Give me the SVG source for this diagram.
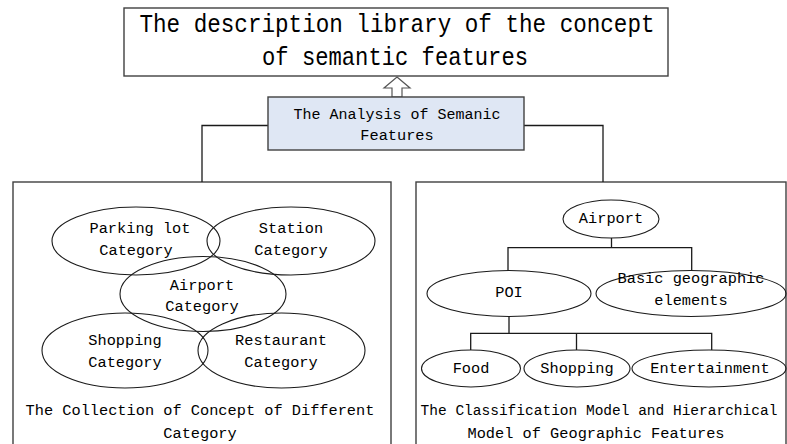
<svg xmlns="http://www.w3.org/2000/svg" width="787" height="444" viewBox="0 0 787 444">
<style>
.box{fill:#fff;stroke:#404040;stroke-width:1.4}
.abox{fill:#dfe7f4;stroke:#404040;stroke-width:1.4}
.el{fill:none;stroke:#1a1a1a;stroke-width:1.1}
.ln{fill:none;stroke:#1a1a1a;stroke-width:1.3}
.t{font-family:"Liberation Mono","DejaVu Sans Mono",monospace;font-size:15.3px;fill:#000;text-anchor:middle}
.big{font-family:"Liberation Mono","DejaVu Sans Mono",monospace;font-size:25px;fill:#000;text-anchor:middle}
</style>
<rect width="787" height="444" fill="#fff"/>
<g id="library">
<rect class="box" x="124" y="8" width="544" height="68"/>
<text class="big" x="397" y="32" textLength="515" lengthAdjust="spacingAndGlyphs">The description library of the concept</text>
<text class="big" x="395" y="65" textLength="266" lengthAdjust="spacingAndGlyphs">of semantic features</text>
</g>
<g id="collection">
<rect class="box" x="13" y="182" width="378" height="270"/>
<text class="t" x="200" y="415">The Collection of Concept of Different</text>
<text class="t" x="200" y="438">Category</text>
</g>
<g id="classification">
<rect class="box" x="416" y="182" width="370" height="270"/>
<text class="t" x="599" y="415" style="font-size:14.5px">The Classification Model and Hierarchical</text>
<text class="t" x="596" y="438">Model of Geographic Features</text>
</g>
<g id="connectors">
<path class="ln" d="M268,125.5H202V182M524,125.5H603V182"/>
<path class="ln" d="M611.5,238V247.7M508,270.5V247.7H691.7V270.5"/>
<path class="ln" d="M509,316.5V333.3M470.7,350V333.3H711.7V350M576.5,333.3V350"/>
<path d="M397,77L410,88H402V97H392V88H384Z" fill="#fff" stroke="#555" stroke-width="1.2"/>
</g>
<g id="analysis">
<rect class="abox" x="268" y="97" width="256" height="53"/>
<text class="t" x="397" y="119" textLength="207" lengthAdjust="spacingAndGlyphs">The Analysis of Semanic</text>
<text class="t" x="397" y="140">Features</text>
</g>
<g id="parking">
<ellipse class="el" cx="136" cy="241" rx="84" ry="34"/>
<text class="t" x="140" y="233">Parking lot</text>
<text class="t" x="136" y="255">Category</text>
</g>
<g id="station">
<ellipse class="el" cx="291" cy="241" rx="84" ry="34"/>
<text class="t" x="291" y="233">Station</text>
<text class="t" x="291" y="255">Category</text>
</g>
<g id="airport-cat">
<ellipse class="el" cx="203" cy="294" rx="83" ry="37.5"/>
<text class="t" x="202" y="290">Airport</text>
<text class="t" x="202" y="311">Category</text>
</g>
<g id="shopping-cat">
<ellipse class="el" cx="125" cy="350.5" rx="83" ry="37.5"/>
<text class="t" x="125" y="345">Shopping</text>
<text class="t" x="125" y="367">Category</text>
</g>
<g id="restaurant-cat">
<ellipse class="el" cx="281.5" cy="350.5" rx="83.5" ry="37.5"/>
<text class="t" x="281" y="345">Restaurant</text>
<text class="t" x="281" y="367">Category</text>
</g>
<g id="airport">
<ellipse class="el" cx="611" cy="219" rx="48" ry="19"/>
<text class="t" x="611" y="223">Airport</text>
</g>
<g id="poi">
<ellipse class="el" cx="509" cy="293.5" rx="82" ry="23"/>
<text class="t" x="509" y="297">POI</text>
</g>
<g id="basic">
<ellipse class="el" cx="691" cy="293.5" rx="95" ry="23"/>
<text class="t" x="691" y="283">Basic geographic</text>
<text class="t" x="691" y="305">elements</text>
</g>
<g id="food">
<ellipse class="el" cx="471" cy="368.5" rx="49.5" ry="18.5"/>
<text class="t" x="471" y="373">Food</text>
</g>
<g id="shopping">
<ellipse class="el" cx="577" cy="368.5" rx="53" ry="18.5"/>
<text class="t" x="577" y="373">Shopping</text>
</g>
<g id="entertainment">
<ellipse class="el" cx="709" cy="368.5" rx="77" ry="18.5"/>
<text class="t" x="710" y="373">Entertainment</text>
</g>
</svg>
